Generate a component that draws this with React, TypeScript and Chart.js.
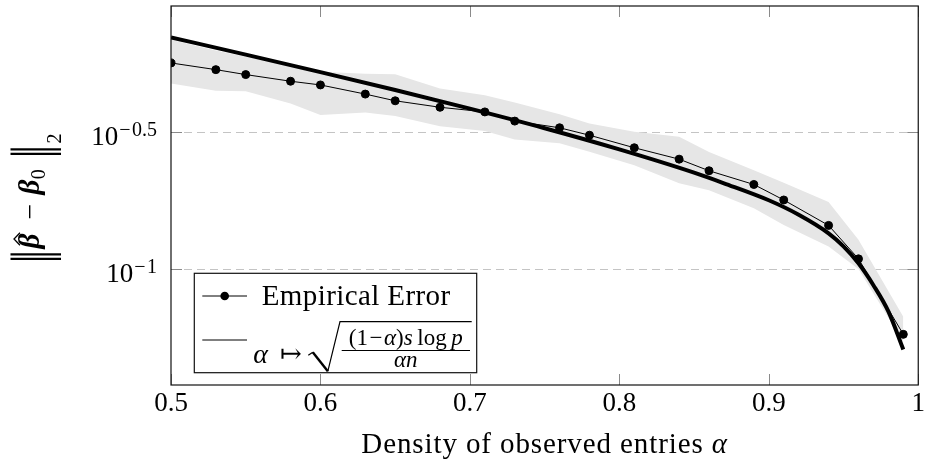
import React, { useEffect, useRef } from "react";
import { Chart, registerables } from "chart.js";

Chart.register(...registerables);

const SERIF = "'Liberation Serif', 'DejaVu Serif', serif";

// Density of observed entries (x) for the empirical series
const alphaEmp = [0.5, 0.53, 0.55, 0.58, 0.6, 0.63, 0.65, 0.68, 0.71, 0.73, 0.76, 0.78, 0.81, 0.84, 0.86, 0.89, 0.91, 0.94, 0.96, 0.99];
// Empirical error (mean)
const errEmp = [0.568, 0.537, 0.515, 0.487, 0.472, 0.437, 0.413, 0.391, 0.376, 0.348, 0.329, 0.309, 0.278, 0.2525, 0.229, 0.204, 0.179, 0.1445, 0.109, 0.0577];
// Shaded band bounds
const bandUpper = [0.691, 0.631, 0.598, 0.557, 0.527, 0.519, 0.517, 0.458, 0.433, 0.407, 0.369, 0.341, 0.318, 0.305, 0.268, 0.23, 0.207, 0.176, 0.128, 0.0669];
const bandLower = [0.478, 0.449, 0.448, 0.404, 0.366, 0.374, 0.363, 0.333, 0.32, 0.298, 0.289, 0.269, 0.24, 0.206, 0.1945, 0.167, 0.145, 0.121, 0.1, 0.0541];
// Theoretical curve
const alphaTheory = [0.5, 0.55, 0.6, 0.65, 0.7, 0.75, 0.8, 0.85, 0.87, 0.9, 0.92, 0.94, 0.95, 0.96, 0.97, 0.98, 0.99];
const errTheory = [0.7047, 0.6095, 0.526, 0.4523, 0.3864, 0.3277, 0.2742, 0.2254, 0.2061, 0.1786, 0.1581, 0.1352, 0.1211, 0.105, 0.0873, 0.07, 0.0508];

const xTicks = [0.5, 0.6, 0.7, 0.8, 0.9, 1];
const xTickLabels = ["0.5", "0.6", "0.7", "0.8", "0.9", "1"];
const yTicks = [0.1, 0.316227766];
const yTickBase = ["10", "10"];
const yTickSup = ["1", "0.5"];
const yMin = 0.03765;
const yMax = 0.918;

const legendLabels = ["Empirical Error"];
const xTitle = "Density of observed entries ";

function seg(ctx: any, x1: number, y1: number, x2: number, y2: number) {
  ctx.beginPath();
  ctx.moveTo(x1, y1);
  ctx.lineTo(x2, y2);
  ctx.stroke();
}

type Run = { t: string; f: string; dy?: number; gap?: number };
function runsWidth(ctx: any, runs: Run[]) {
  let w = 0;
  for (const r of runs) {
    ctx.font = r.f;
    w += ctx.measureText(r.t).width + (r.gap || 0);
  }
  return w;
}
function drawRuns(ctx: any, runs: Run[], x: number, y: number) {
  let cx = x;
  for (const r of runs) {
    ctx.font = r.f;
    ctx.fillText(r.t, cx, y + (r.dy || 0));
    cx += ctx.measureText(r.t).width + (r.gap || 0);
  }
  return cx;
}

const decorPlugin = {
  id: "decor",
  afterDatasetsDraw(chart: any) {
    const { ctx, chartArea: a, scales } = chart;
    const xs = scales.x;
    const ys = scales.y;
    ctx.save();
    ctx.strokeStyle = "#8a8a8a";
    ctx.lineWidth = 1;
    for (const v of xTicks) {
      const px = Math.round(xs.getPixelForValue(v)) + 0.5;
      seg(ctx, px, a.bottom, px, a.bottom - 11);
      seg(ctx, px, a.top, px, a.top + 11);
    }
    for (const v of yTicks) {
      const py = Math.round(ys.getPixelForValue(v)) + 0.5;
      seg(ctx, a.left, py, a.left + 11, py);
      seg(ctx, a.right, py, a.right - 11, py);
    }
    ctx.strokeStyle = "#111";
    ctx.lineWidth = 1.2;
    ctx.strokeRect(a.left, a.top, a.right - a.left, a.bottom - a.top);
    ctx.restore();
  },
  afterDraw(chart: any) {
    const { ctx, chartArea: a, scales } = chart;
    const ys = scales.y;
    ctx.save();
    ctx.fillStyle = "#000";
    ctx.textAlign = "left";
    ctx.textBaseline = "alphabetic";

    // y tick labels 10^{-...}
    yTicks.forEach((v, i) => {
      const py = ys.getPixelForValue(v);
      const fBase = `27px ${SERIF}`;
      const fSup = `20px ${SERIF}`;
      const runs: Run[] = [
        { t: yTickBase[i], f: fBase, gap: 1 },
        { t: "\u2212", f: fSup, dy: -9, gap: 1.5 },
        { t: yTickSup[i], f: fSup, dy: -9 },
      ];
      const w = runsWidth(ctx, runs);
      drawRuns(ctx, runs, a.left - 14 - w, py + 13);
    });

    // x axis title
    ctx.letterSpacing = "0.9px";
    const xr: Run[] = [
      { t: xTitle, f: `29px ${SERIF}` },
      { t: "\u03b1", f: `italic 29px ${SERIF}` },
    ];
    const xw = runsWidth(ctx, xr);
    drawRuns(ctx, xr, (a.left + a.right) / 2 - xw / 2, a.bottom + 68);
    ctx.letterSpacing = "0px";

    // y axis title  ||beta_hat - beta_0||_2  (rotated); u = offset along text from the label centre
    ctx.save();
    ctx.translate(39, (a.top + a.bottom) / 2);
    ctx.rotate(-Math.PI / 2);
    const fB = `bold italic 29px ${SERIF}`;
    const fR = `28px ${SERIF}`;
    const fS = `20px ${SERIF}`;
    const fBar = `28px 'DejaVu Serif', serif`;
    const drawBar = (uc: number) => {
      ctx.save();
      ctx.translate(uc, -3);
      ctx.scale(1, 1.8);
      ctx.font = fBar;
      ctx.textAlign = "center";
      ctx.textBaseline = "middle";
      ctx.fillText("\u2016", 0, 0);
      ctx.restore();
    };
    drawBar(-61);
    ctx.font = fB;
    const wBeta = ctx.measureText("\u03b2").width;
    ctx.fillText("\u03b2", -53, 0);
    ctx.strokeStyle = "#000";
    ctx.lineWidth = 1.3;
    ctx.beginPath();
    ctx.moveTo(-53 + wBeta * 0.22, -19);
    ctx.lineTo(-53 + wBeta * 0.64, -25);
    ctx.lineTo(-53 + wBeta * 1.06, -19);
    ctx.stroke();
    ctx.font = fR;
    ctx.fillText("\u2212", -24, 0);
    ctx.font = fB;
    ctx.fillText("\u03b2", 1, 0);
    ctx.font = fS;
    ctx.fillText("0", 1 + wBeta + 0.5, 6);
    drawBar(44);
    ctx.font = fS;
    ctx.fillText("2", 52, 22);
    ctx.restore();

    // legend
    const L = a.left + 23.3;
    const T = a.bottom - 111.7;
    const W = 282.4;
    const H = 99.4;
    ctx.fillStyle = "#fff";
    ctx.fillRect(L, T, W, H);
    ctx.strokeStyle = "#111";
    ctx.lineWidth = 1.2;
    ctx.strokeRect(L, T, W, H);
    ctx.fillStyle = "#000";
    ctx.strokeStyle = "#000";
    ctx.lineWidth = 1;
    seg(ctx, L + 8, T + 22.7, L + 52.7, T + 22.7);
    ctx.beginPath();
    ctx.arc(L + 30.4, T + 22.7, 4.3, 0, Math.PI * 2);
    ctx.fill();
    ctx.letterSpacing = "0.4px";
    ctx.font = `29px ${SERIF}`;
    ctx.fillText(legendLabels[0], L + 67.4, T + 31.7);
    ctx.letterSpacing = "0px";

    seg(ctx, L + 8, T + 66.7, L + 52.7, T + 66.7);
    ctx.font = `italic 28px ${SERIF}`;
    ctx.fillText("\u03b1", L + 59, T + 90);
    ctx.font = `26px 'DejaVu Serif', serif`;
    ctx.fillText("\u21a6", L + 85.5, T + 89);
    // radical sign
    ctx.lineWidth = 1.2;
    ctx.beginPath();
    ctx.moveTo(L + 114, T + 82);
    ctx.lineTo(L + 118.5, T + 79);
    ctx.stroke();
    ctx.lineWidth = 2.4;
    ctx.beginPath();
    ctx.moveTo(L + 118.5, T + 79);
    ctx.lineTo(L + 133.5, T + 98);
    ctx.stroke();
    ctx.lineWidth = 1.2;
    ctx.beginPath();
    ctx.moveTo(L + 133.5, T + 98);
    ctx.lineTo(L + 145.7, T + 48.4);
    ctx.lineTo(L + 277.4, T + 48.4);
    ctx.stroke();
    // fraction
    const fR20 = `23px ${SERIF}`;
    const fI20 = `italic 23px ${SERIF}`;
    const num: Run[] = [
      { t: "(1", f: fR20, gap: 1.5 },
      { t: "\u2212", f: fR20, gap: 1.5 },
      { t: "\u03b1", f: fI20 },
      { t: ")", f: fR20 },
      { t: "s", f: fI20 },
      { t: "\u2009log\u2009", f: fR20 },
      { t: "p", f: fI20 },
    ];
    const cx = L + 211.5;
    const nw = runsWidth(ctx, num);
    drawRuns(ctx, num, cx - nw / 2, T + 71.7);
    ctx.lineWidth = 1;
    seg(ctx, L + 147.4, T + 77.2, L + 275.7, T + 77.2);
    const den: Run[] = [
      { t: "\u03b1", f: fI20 },
      { t: "n", f: fI20 },
    ];
    const dw = runsWidth(ctx, den);
    drawRuns(ctx, den, cx - dw / 2, T + 94);
    ctx.restore();
  },
};

export default function App() {
  const ref = useRef<HTMLCanvasElement | null>(null);
  useEffect(() => {
    document.body.style.margin = "0";
    const canvas = ref.current;
    if (!canvas) return;
    const toXY = (xs: number[], ys: number[]) => xs.map((x, i) => ({ x, y: ys[i] }));
    const chart = new Chart(canvas, {
      type: "line",
      data: {
        datasets: [
          {
            label: "Empirical Error",
            data: toXY(alphaEmp, errEmp),
            borderColor: "#000",
            borderWidth: 1,
            pointRadius: 4,
            pointBorderWidth: 1,
            pointBackgroundColor: "#000",
            pointBorderColor: "#000",
            tension: 0,
            fill: false,
            order: 1,
          },
          {
            label: "theory",
            data: toXY(alphaTheory, errTheory),
            borderColor: "#000",
            borderWidth: 4,
            pointRadius: 0,
            cubicInterpolationMode: "monotone",
            fill: false,
            order: 2,
          },
          {
            label: "lower",
            data: toXY(alphaEmp, bandLower),
            borderColor: "rgba(0,0,0,0)",
            borderWidth: 1,
            pointRadius: 0,
            tension: 0,
            fill: false,
            order: 3,
          },
          {
            label: "upper",
            data: toXY(alphaEmp, bandUpper),
            borderColor: "rgba(0,0,0,0)",
            borderWidth: 1,
            pointRadius: 0,
            tension: 0,
            backgroundColor: "#e6e6e6",
            fill: "-1",
            order: 3,
          },
        ],
      },
      options: {
        responsive: false,
        animation: false,
        devicePixelRatio: 1,
        events: [],
        layout: { padding: { top: 6, right: 4, left: 0, bottom: 0 }, autoPadding: false },
        plugins: {
          legend: { display: false },
          tooltip: { enabled: false },
          title: { display: false },
        },
        scales: {
          x: {
            type: "linear",
            min: 0.5,
            max: 1,
            grid: { display: false, drawTicks: false },
            border: { display: false },
            afterBuildTicks: (s: any) => {
              s.ticks = xTicks.map((v) => ({ value: v }));
            },
            afterFit: (s: any) => {
              s.height = 77;
            },
            ticks: {
              padding: 3,
              color: "#000",
              maxRotation: 0,
              autoSkip: false,
              font: { family: SERIF, size: 27 },
              callback: (v: any) => {
                const i = xTicks.indexOf(Number(v));
                return i >= 0 ? xTickLabels[i] : "";
              },
            },
          },
          y: {
            type: "logarithmic",
            min: yMin,
            max: yMax,
            bounds: "data",
            grid: { display: true, drawTicks: false, color: "#c4c4c4", lineWidth: 1 },
            border: { display: false, dash: [8, 5] },
            afterBuildTicks: (s: any) => {
              s.ticks = yTicks.map((v) => ({ value: v }));
            },
            afterFit: (s: any) => {
              s.width = 171;
            },
            ticks: { display: false },
          },
        },
      },
      plugins: [decorPlugin],
    } as any);
    return () => chart.destroy();
  }, []);
  return (
    <div style={{ position: "absolute", left: 0, top: 0, width: 928, height: 462, background: "#fff" }}>
      <canvas ref={ref} width={928} height={462} />
    </div>
  );
}
